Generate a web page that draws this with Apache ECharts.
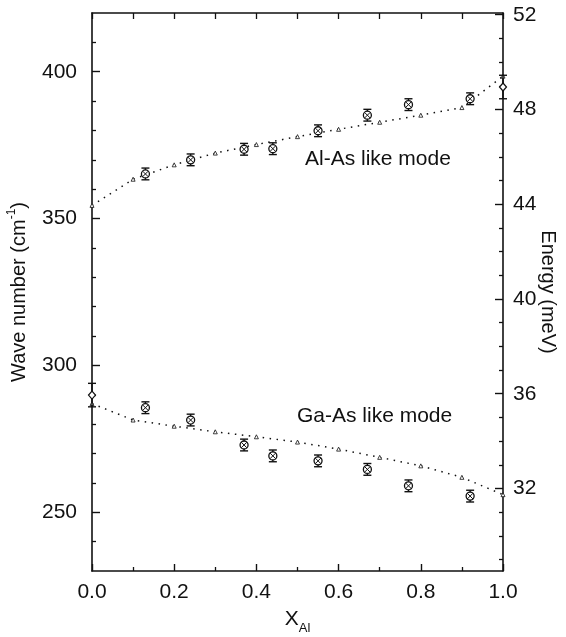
<!DOCTYPE html>
<html>
<head>
<meta charset="utf-8">
<script src="https://cdn.jsdelivr.net/npm/echarts@6/dist/echarts.min.js"></script>
<style>
html, body { margin: 0; padding: 0; background: #fff; }
#chart { width: 566px; height: 637px; }
</style>
</head>
<body>
<div id="chart"></div>
<script>
// measured phonon modes (cm-1) vs Al content
var alloyX = [0.13, 0.24, 0.37, 0.44, 0.55, 0.67, 0.77, 0.92];
var alAsMeas = [365.2, 370.0, 373.6, 373.8, 379.9, 385.2, 388.8, 390.8];
var gaAsMeas = [285.6, 281.4, 272.9, 269.2, 267.5, 264.6, 259.0, 255.5];
var measErr = 2;

// binary end points (GaAs at x=0, AlAs at x=1)
var endX = [0, 1];
var endVal = [289.9, 394.8];
var endErr = 4;

// calculated curves
var calcX = [0, 0.1, 0.2, 0.3, 0.4, 0.5, 0.6, 0.7, 0.8, 0.9, 1.0];
var alAsCalc = [354.5, 363.4, 368.3, 372.3, 375.2, 377.9, 380.4, 382.8, 385.2, 387.8, 398.5];
var gaAsCalc = [287.0, 281.4, 279.3, 277.4, 275.7, 273.9, 271.5, 268.7, 265.8, 261.9, 256.0];

// tick labels
var waveTicks = [250, 300, 350, 400];
var waveMinor = [240, 260, 270, 280, 290, 310, 320, 330, 340, 360, 370, 380, 390, 410];
var energyTicks = [32, 36, 40, 44, 48, 52];
var energyMinor = [29, 30, 31, 33, 34, 35, 37, 38, 39, 41, 42, 43, 45, 46, 47, 49, 50, 51];

var waveMin = 230, waveMax = 420;
var CM_PER_MEV = 8.0655;

var myChart = echarts.init(document.getElementById('chart'));

var FONT = 'Liberation Sans';
var INK = '#111';

function drawMarker(shape) {
	return function (params, api) {
		var x = api.value(0), v = api.value(1), e = api.value(2);
		var p = api.coord([x, v]);
		var hi = api.coord([x, v + e]);
		var lo = api.coord([x, v - e]);
		var st = { stroke: INK, lineWidth: 1.4, fill: null };
		var kids = [
			{ type: 'line', shape: { x1: p[0], y1: hi[1], x2: p[0], y2: lo[1] }, style: st },
			{ type: 'line', shape: { x1: p[0] - 4, y1: hi[1], x2: p[0] + 4, y2: hi[1] }, style: st },
			{ type: 'line', shape: { x1: p[0] - 4, y1: lo[1], x2: p[0] + 4, y2: lo[1] }, style: st }
		];
		if (shape === 'circle') {
			kids.push({ type: 'circle', shape: { cx: p[0], cy: p[1], r: 4 }, style: { stroke: INK, lineWidth: 1.3, fill: '#fff' } });
			kids.push({ type: 'line', shape: { x1: p[0] - 2.8, y1: p[1] - 2.8, x2: p[0] + 2.8, y2: p[1] + 2.8 }, style: { stroke: INK, lineWidth: 1 } });
			kids.push({ type: 'line', shape: { x1: p[0] - 2.8, y1: p[1] + 2.8, x2: p[0] + 2.8, y2: p[1] - 2.8 }, style: { stroke: INK, lineWidth: 1 } });
		} else {
			kids.push({ type: 'polygon', shape: { points: [[p[0], p[1] - 4], [p[0] + 3.5, p[1]], [p[0], p[1] + 4], [p[0] - 3.5, p[1]]] },
				style: { stroke: INK, lineWidth: 1.2, fill: '#fff' } });
		}
		return { type: 'group', children: kids };
	};
}

function zip(xs, ys, err) {
	return xs.map(function (x, i) { return err === undefined ? [x, ys[i]] : [x, ys[i], err]; });
}

var axisLineStyle = { color: INK, width: 1.6 };

myChart.setOption({
	animation: false,
	backgroundColor: '#fff',
	grid: { left: 92, right: 63, top: 13, bottom: 66, outerBoundsMode: 'none' },
	xAxis: [{
		type: 'value', position: 'bottom', min: 0, max: 1, interval: 0.2,
		axisLine: { lineStyle: axisLineStyle },
		axisTick: { inside: true, length: 7, lineStyle: { color: INK, width: 1.4 } },
		minorTick: { show: true, splitNumber: 2, length: 4, lineStyle: { color: INK, width: 1.3 } },
		splitLine: { show: false },
		axisLabel: { fontFamily: FONT, fontSize: 21, color: INK, margin: 11,
			formatter: function (v) { return v.toFixed(1); } },
		name: '{x|X}{sub|Al}', nameLocation: 'middle', nameGap: 38, nameMoveOverlap: false,
		nameTextStyle: { rich: {
			x: { fontFamily: FONT, fontSize: 21, color: INK, lineHeight: 26, verticalAlign: 'top' },
			sub: { fontFamily: FONT, fontSize: 13, color: INK, verticalAlign: 'bottom' }
		} }
	}, {
		type: 'value', position: 'top', min: 0, max: 1, interval: 0.1,
		axisLine: { lineStyle: axisLineStyle },
		axisTick: { inside: true, length: 6, lineStyle: { color: INK, width: 1.3 } },
		splitLine: { show: false },
		axisLabel: { show: false }
	}],
	yAxis: [{
		type: 'value', position: 'left', min: waveMin, max: waveMax,
		axisLine: { show: true, lineStyle: axisLineStyle },
		axisTick: { inside: true, length: 8, customValues: waveTicks, lineStyle: { color: INK, width: 1.4 } },
		splitLine: { show: false },
		axisLabel: { customValues: waveTicks, fontFamily: FONT, fontSize: 21, color: INK, margin: 15 },
		name: 'Wave number (cm{sup|-1})', nameLocation: 'middle', nameRotate: 90, nameGap: 60, nameMoveOverlap: false,
		nameTextStyle: { fontFamily: FONT, fontSize: 20, color: INK, lineHeight: 26, verticalAlign: 'bottom',
			rich: { sup: { fontFamily: FONT, fontSize: 12, color: INK, verticalAlign: 'top' } } }
	}, {
		type: 'value', position: 'left', min: waveMin, max: waveMax,
		axisLine: { show: false },
		axisTick: { inside: true, length: 4, customValues: waveMinor, lineStyle: { color: INK, width: 1.3 } },
		splitLine: { show: false },
		axisLabel: { show: false }
	}, {
		type: 'value', position: 'right', min: waveMin / CM_PER_MEV, max: waveMax / CM_PER_MEV,
		axisLine: { show: true, lineStyle: axisLineStyle },
		axisTick: { inside: true, length: 8, customValues: energyTicks, lineStyle: { color: INK, width: 1.4 } },
		splitLine: { show: false },
		axisLabel: { customValues: energyTicks, fontFamily: FONT, fontSize: 21, color: INK, margin: 10 },
		name: 'Energy (meV)', nameLocation: 'middle', nameRotate: -90, nameGap: 35, nameMoveOverlap: false,
		nameTextStyle: { fontFamily: FONT, fontSize: 20, color: INK }
	}, {
		type: 'value', position: 'right', min: waveMin / CM_PER_MEV, max: waveMax / CM_PER_MEV,
		axisLine: { show: false },
		axisTick: { inside: true, length: 4, customValues: energyMinor, lineStyle: { color: INK, width: 1.3 } },
		splitLine: { show: false },
		axisLabel: { show: false }
	}],
	series: [{
		name: 'Al-As calc', type: 'line', data: zip(calcX, alAsCalc),
		symbol: 'triangle', symbolSize: 4, showSymbol: true,
		itemStyle: { color: '#fff', borderColor: INK, borderWidth: 0.8 },
		lineStyle: { color: INK, width: 1.5, type: [1.5, 5.5] }, z: 2
	}, {
		name: 'Ga-As calc', type: 'line', data: zip(calcX, gaAsCalc),
		symbol: 'triangle', symbolSize: 4, showSymbol: true,
		itemStyle: { color: '#fff', borderColor: INK, borderWidth: 0.8 },
		lineStyle: { color: INK, width: 1.5, type: [1.5, 5.5] }, z: 2
	}, {
		name: 'Al-As meas', type: 'custom', renderItem: drawMarker('circle'),
		data: zip(alloyX, alAsMeas, measErr), encode: { x: 0, y: 1 }, z: 5
	}, {
		name: 'Ga-As meas', type: 'custom', renderItem: drawMarker('circle'),
		data: zip(alloyX, gaAsMeas, measErr), encode: { x: 0, y: 1 }, z: 5
	}, {
		name: 'binary', type: 'custom', renderItem: drawMarker('diamond'),
		data: zip(endX, endVal, endErr), encode: { x: 0, y: 1 }, z: 5
	}],
	graphic: [
		{ type: 'text', left: 305, top: 149, style: { text: 'Al-As like mode', fontFamily: FONT, fontSize: 21, fill: INK } },
		{ type: 'text', left: 297, top: 406, style: { text: 'Ga-As like mode', fontFamily: FONT, fontSize: 21, fill: INK } }
	]
});
</script>
</body>
</html>
